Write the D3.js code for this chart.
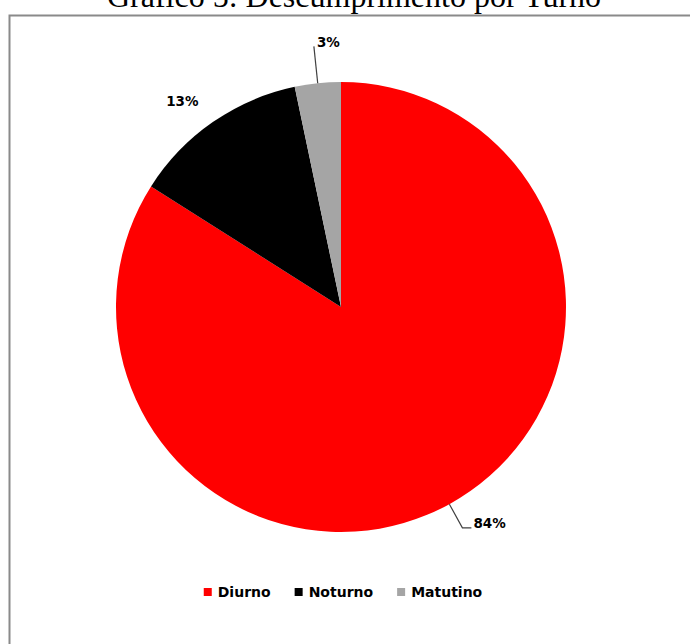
<!DOCTYPE html>
<html>
<head>
<meta charset="utf-8">
<script src="https://cdn.jsdelivr.net/npm/d3@7"></script>
<style>
  body { margin: 0; background: #fff; }
  svg { display: block; }
  .title { font-family: 'Liberation Serif', 'Times New Roman', serif; font-size: 32px; fill: #000; }
  .pct { font-family: 'DejaVu Sans', Verdana, sans-serif; font-weight: bold; font-size: 13.5px; fill: #000; }
  .legend-text { font-family: 'DejaVu Sans', Verdana, sans-serif; font-weight: bold; font-size: 14px; fill: #000; }
</style>
</head>
<body>
<svg width="690" height="644"></svg>
<script>
// chart data
var turnos = ['Diurno', 'Noturno', 'Matutino'];
var percentuais = [84, 12.7, 3.3];
var rotulos = ['84%', '13%', '3%'];
var cores = ['#ff0000', '#000000', '#a5a5a5'];

var svg = d3.select('svg');

// chart frame (right and bottom edges fall outside the window)
svg.append('rect')
    .attr('x', 9.5)
    .attr('y', 15.5)
    .attr('width', 720)
    .attr('height', 700)
    .attr('fill', '#fff')
    .attr('stroke', '#8a8a8a')
    .attr('stroke-width', 2);

svg.append('text')
    .attr('class', 'title')
    .attr('x', 354)
    .attr('y', 7)
    .attr('text-anchor', 'middle')
    .text('Gráfico 5: Descumprimento por Turno');

var cx = 341, cy = 307, radius = 225;

var pie = d3.pie().sort(null).value(function (d) { return d; });
var arcs = pie(percentuais);
var arc = d3.arc().innerRadius(0).outerRadius(radius);

var chartG = svg.append('g')
    .attr('transform', 'translate(' + cx + ',' + cy + ')');

chartG.selectAll('.slice')
    .data(arcs)
    .enter()
    .append('path')
    .attr('class', 'slice')
    .attr('d', arc)
    .attr('fill', function (d, i) { return cores[i]; });

function polar(angle, r) {
    return [r * Math.sin(angle), -r * Math.cos(angle)];
}

function midAngle(d) {
    return (d.startAngle + d.endAngle) / 2;
}

// label placement: leader length, elbow, text offsets per slice
var labelLayout = [
    { leader: 27, elbow: 9, dx: 2, dy: 0, anchor: 'start' },
    { leader: 0, radius: 260, angleShift: -0.05, anchor: 'middle', dy: 5 },
    { leader: 37, elbow: 0, dx: 3, dy: 1, anchor: 'start' }
];

arcs.forEach(function (d, i) {
    var cfg = labelLayout[i];
    var a = midAngle(d);
    if (cfg.leader > 0) {
        var p0 = polar(a, radius);
        var p1 = polar(a, radius + cfg.leader);
        var p2 = [p1[0] + cfg.elbow, p1[1]];
        chartG.append('path')
            .attr('d', d3.line()([p0, p1, p2]))
            .attr('fill', 'none')
            .attr('stroke', '#404040')
            .attr('stroke-width', 1.2);
        chartG.append('text')
            .attr('class', 'pct')
            .attr('x', p2[0] + cfg.dx)
            .attr('y', p2[1] + cfg.dy)
            .attr('text-anchor', cfg.anchor)
            .text(rotulos[i]);
    } else {
        var p = polar(a + cfg.angleShift, cfg.radius);
        chartG.append('text')
            .attr('class', 'pct')
            .attr('x', p[0])
            .attr('y', p[1] + cfg.dy)
            .attr('text-anchor', cfg.anchor)
            .text(rotulos[i]);
    }
});

// legend
var legendG = svg.append('g');
var xPos = 0;
turnos.forEach(function (t, i) {
    var item = legendG.append('g').attr('transform', 'translate(' + xPos + ',0)');
    item.append('rect')
        .attr('x', 0)
        .attr('y', -9)
        .attr('width', 8)
        .attr('height', 8)
        .attr('fill', cores[i]);
    var txt = item.append('text')
        .attr('class', 'legend-text')
        .attr('x', 14)
        .attr('y', 0)
        .text(t);
    xPos += 14 + txt.node().getComputedTextLength() + 24;
});
var legendWidth = xPos - 24;
legendG.attr('transform', 'translate(' + (cx + 2 - legendWidth / 2) + ',597)');
</script>
</body>
</html>
